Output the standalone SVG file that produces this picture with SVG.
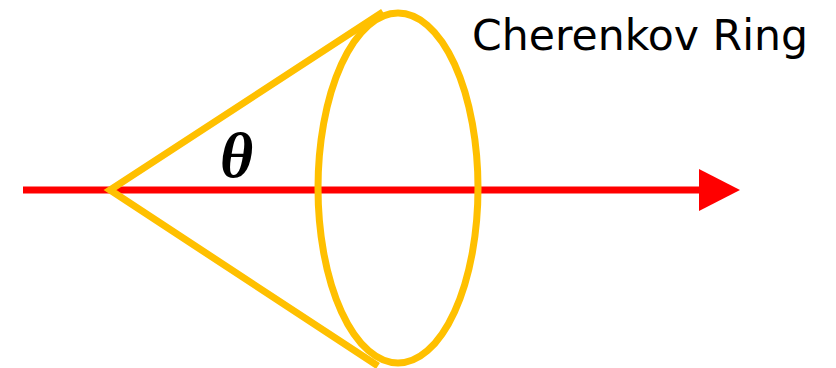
<svg xmlns="http://www.w3.org/2000/svg" width="836" height="368" viewBox="0 0 836 368">
<style>
.cone{fill:none;stroke:#FFC000;stroke-width:7}
.beam{stroke:#FF0000;stroke-width:7;fill:none}
.lbl{font-family:"DejaVu Sans","Noto Sans",sans-serif;font-size:42px;fill:#000}
.theta{font-family:"Liberation Serif",serif;font-style:italic;font-weight:bold;font-size:64px;fill:#000}
</style>
<defs>
<marker id="arr" markerUnits="userSpaceOnUse" markerWidth="42" markerHeight="42" refX="0" refY="21" orient="auto">
<path d="M0,0 L41,21 L0,42 Z" fill="#FF0000"/>
</marker>
</defs>
<g id="connectors">
<line class="beam" x1="23" y1="190" x2="699" y2="190" marker-end="url(#arr)"/>
</g>
<g id="cone">
<polyline class="cone" points="383,12 110,190 378,366"/>
<ellipse class="cone" cx="398" cy="188" rx="80" ry="175"/>
</g>
<g id="theta"><text class="theta" x="220" y="177">θ</text></g>
<g id="label"><text class="lbl" x="472" y="50" textLength="336" lengthAdjust="spacingAndGlyphs">Cherenkov Ring</text></g>
</svg>
